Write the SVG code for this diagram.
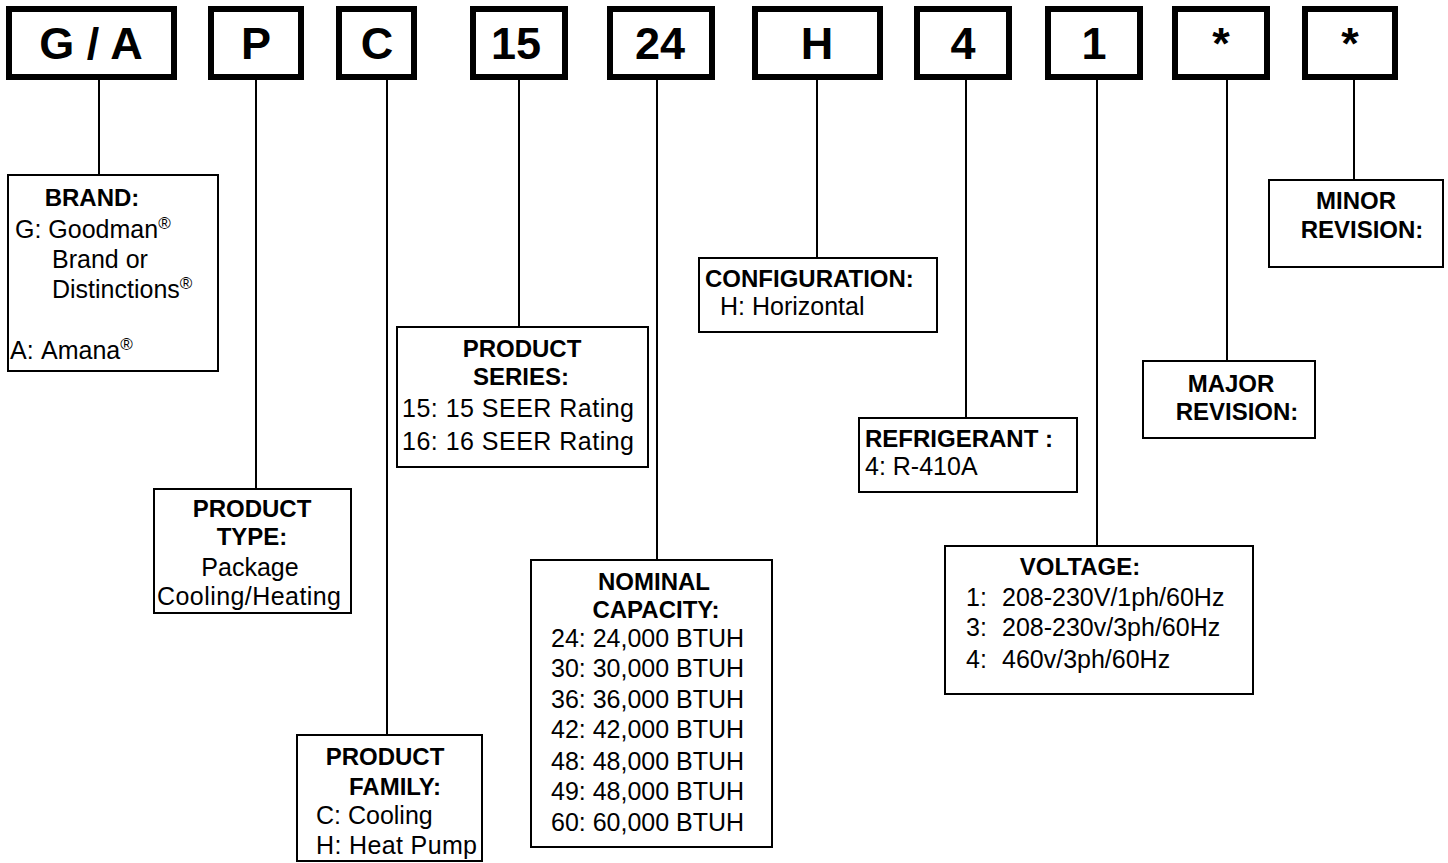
<svg xmlns="http://www.w3.org/2000/svg" width="1448" height="863" viewBox="0 0 1448 863">
<style>
.code{fill:#fff;stroke:#000;stroke-width:6}
.box{fill:#fff;stroke:#000;stroke-width:2}
.ln{stroke:#000;stroke-width:2;fill:none}
text{font-family:"Liberation Sans",Arial,sans-serif;fill:#000}
.big{font-size:45px;font-weight:bold;text-anchor:middle}
.h{font-size:24px;font-weight:bold}
.c{text-anchor:middle}
.t{font-size:25px}
.sup{font-size:17px}
</style>
<rect width="1448" height="863" fill="#fff"/>
<g id="connectors">
<line class="ln" x1="99" y1="80" x2="99" y2="175"/>
<line class="ln" x1="256" y1="80" x2="256" y2="489"/>
<line class="ln" x1="387" y1="80" x2="387" y2="735"/>
<line class="ln" x1="519" y1="80" x2="519" y2="327"/>
<line class="ln" x1="657" y1="80" x2="657" y2="560"/>
<line class="ln" x1="817" y1="80" x2="817" y2="258"/>
<line class="ln" x1="966" y1="80" x2="966" y2="418"/>
<line class="ln" x1="1097" y1="80" x2="1097" y2="546"/>
<line class="ln" x1="1227" y1="80" x2="1227" y2="361"/>
<line class="ln" x1="1354" y1="80" x2="1354" y2="180"/>
</g>
<g id="code-ga"><rect class="code" x="9" y="9" width="165" height="68"/><text class="big" x="91" y="59">G / A</text></g>
<g id="code-p"><rect class="code" x="211" y="9" width="90" height="68"/><text class="big" x="256" y="59">P</text></g>
<g id="code-c"><rect class="code" x="339" y="9" width="75" height="68"/><text class="big" x="377" y="59">C</text></g>
<g id="code-15"><rect class="code" x="473" y="9" width="92" height="68"/><text class="big" x="516" y="59">15</text></g>
<g id="code-24"><rect class="code" x="610" y="9" width="102" height="68"/><text class="big" x="660" y="59">24</text></g>
<g id="code-h"><rect class="code" x="755" y="9" width="125" height="68"/><text class="big" x="817" y="59">H</text></g>
<g id="code-4"><rect class="code" x="917" y="9" width="92" height="68"/><text class="big" x="963" y="59">4</text></g>
<g id="code-1"><rect class="code" x="1048" y="9" width="92" height="68"/><text class="big" x="1094" y="59">1</text></g>
<g id="code-star1"><rect class="code" x="1175" y="9" width="92" height="68"/><text class="big" x="1221" y="59">*</text></g>
<g id="code-star2"><rect class="code" x="1305" y="9" width="90" height="68"/><text class="big" x="1350" y="59">*</text></g>

<g id="brand"><rect class="box" x="8" y="175" width="210" height="196"/>
<text class="h c" x="92" y="206">BRAND:</text>
<text class="t" x="15" y="238">G: Goodman<tspan class="sup" dy="-9">®</tspan></text>
<text class="t" x="52" y="268">Brand or</text>
<text class="t" x="52" y="298">Distinctions<tspan class="sup" dy="-9">®</tspan></text>
<text class="t" x="10" y="359">A:<tspan x="41">Amana</tspan><tspan class="sup" dy="-9">®</tspan></text>
</g>
<g id="product-type"><rect class="box" x="154" y="489" width="197" height="124"/>
<text class="h c" x="252" y="517">PRODUCT</text>
<text class="h c" x="252" y="545">TYPE:</text>
<text class="t c" x="250" y="576">Package</text>
<text class="t c" x="249" y="605" textLength="184">Cooling/Heating</text>
</g>
<g id="product-family"><rect class="box" x="297" y="735" width="185" height="126"/>
<text class="h c" x="385" y="765">PRODUCT</text>
<text class="h c" x="395" y="795">FAMILY:</text>
<text class="t" x="316" y="824">C: Cooling</text>
<text class="t" x="316" y="854" textLength="161">H: Heat Pump</text>
</g>
<g id="product-series"><rect class="box" x="397" y="327" width="251" height="140"/>
<text class="h c" x="522" y="357">PRODUCT</text>
<text class="h c" x="521" y="385">SERIES:</text>
<text class="t" x="402" y="417" textLength="232">15: 15 SEER Rating</text>
<text class="t" x="402" y="450" textLength="232">16: 16 SEER Rating</text>
</g>
<g id="nominal-capacity"><rect class="box" x="531" y="560" width="241" height="287"/>
<text class="h c" x="654" y="590">NOMINAL</text>
<text class="h c" x="656" y="618">CAPACITY:</text>
<text class="t" x="551" y="647">24: 24,000 BTUH</text>
<text class="t" x="551" y="677">30: 30,000 BTUH</text>
<text class="t" x="551" y="708">36: 36,000 BTUH</text>
<text class="t" x="551" y="738">42: 42,000 BTUH</text>
<text class="t" x="551" y="770">48: 48,000 BTUH</text>
<text class="t" x="551" y="800">49: 48,000 BTUH</text>
<text class="t" x="551" y="831">60: 60,000 BTUH</text>
</g>
<g id="configuration"><rect class="box" x="699" y="258" width="238" height="74"/>
<text class="h" x="705" y="287">CONFIGURATION:</text>
<text class="t" x="720" y="315">H: Horizontal</text>
</g>
<g id="refrigerant"><rect class="box" x="859" y="418" width="218" height="74"/>
<text class="h" x="865" y="447">REFRIGERANT :</text>
<text class="t" x="865" y="475">4: R-410A</text>
</g>
<g id="voltage"><rect class="box" x="945" y="546" width="308" height="148"/>
<text class="h c" x="1080" y="575">VOLTAGE:</text>
<text class="t" x="966" y="606">1:<tspan x="1002">208-230V/1ph/60Hz</tspan></text>
<text class="t" x="966" y="636">3:<tspan x="1002">208-230v/3ph/60Hz</tspan></text>
<text class="t" x="966" y="668">4:<tspan x="1002">460v/3ph/60Hz</tspan></text>
</g>
<g id="major-revision"><rect class="box" x="1143" y="361" width="172" height="77"/>
<text class="h c" x="1231" y="392">MAJOR</text>
<text class="h c" x="1237" y="420">REVISION:</text>
</g>
<g id="minor-revision"><rect class="box" x="1269" y="180" width="174" height="87"/>
<text class="h c" x="1356" y="209">MINOR</text>
<text class="h c" x="1362" y="238">REVISION:</text>
</g>
</svg>
